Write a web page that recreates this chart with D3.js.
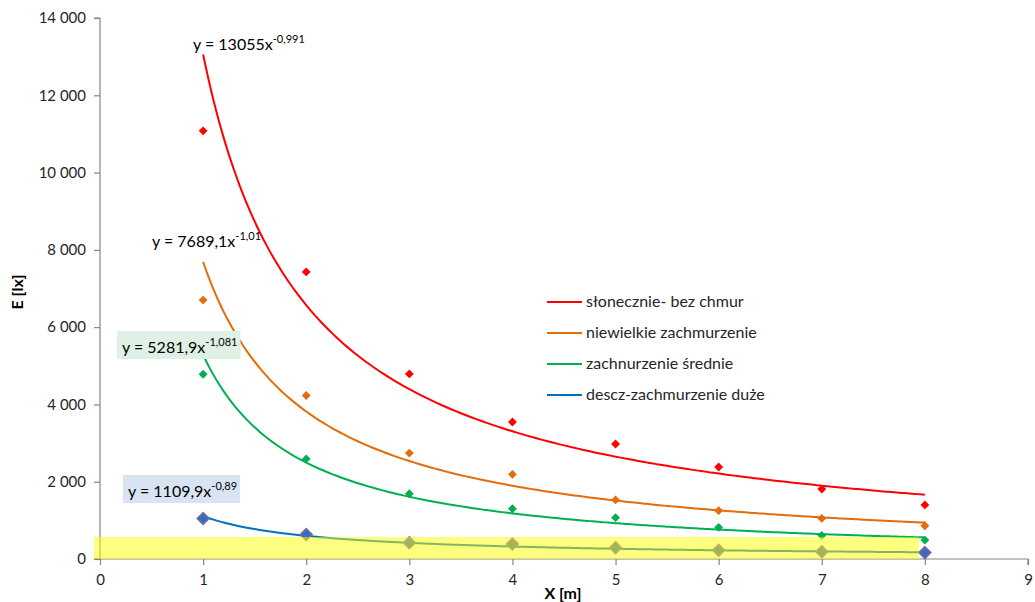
<!DOCTYPE html>
<html>
<head>
<meta charset="utf-8">
<script src="https://cdn.jsdelivr.net/npm/d3@7"></script>
<style>
  body { margin: 0; background: #fff; }
  svg { display: block; font-family: Lato, "Open Sans", sans-serif; }
</style>
</head>
<body>
<svg id="chart" width="1035" height="602"></svg>
<script>
// pomiary
const xValues = [1, 2, 3, 4, 5, 6, 7, 8];
const sunny = [11080, 7430, 4790, 3545, 2975, 2380, 1810, 1400];
const lightClouds = [6700, 4230, 2740, 2190, 1530, 1250, 1050, 860];
const mediumClouds = [4780, 2590, 1690, 1300, 1070, 820, 610, 490];
const heavyClouds = [1050, 635, 420, 385, 290, 225, 190, 165];

const seriesNames = ['słonecznie- bez chmur', 'niewielkie zachmurzenie', 'zachnurzenie średnie', 'descz-zachmurzenie duże'];
const seriesColors = ['#ff0000', '#e46c0a', '#00b050', '#0070c0'];
// y = a * x^b
const fitA = [13055, 7689.1, 5281.9, 1109.9];
const fitB = [-0.991, -1.01, -1.081, -0.89];
const fitLabelA = ['13055', '7689,1', '5281,9', '1109,9'];
const fitLabelB = ['-0,991', '-1,01', '-1,081', '-0,89'];

const xTicks = [0, 1, 2, 3, 4, 5, 6, 7, 8, 9];
const yTicks = [0, 2000, 4000, 6000, 8000, 10000, 12000, 14000];

const svg = d3.select('#chart');
const x = d3.scaleLinear().domain([0, 9]).range([100, 1028]);
const y = d3.scaleLinear().domain([0, 14000]).range([559, 18]);
const fmt = d3.formatLocale({ decimal: ',', thousands: '\u00a0', grouping: [3], currency: ['', ''] }).format(',d');

// osie
const yAxis = svg.append('g')
    .attr('transform', 'translate(100,0)')
    .call(d3.axisLeft(y).tickValues(yTicks).tickSize(6).tickPadding(8).tickFormat(fmt));
const xAxis = svg.append('g')
    .attr('transform', 'translate(0,559)')
    .call(d3.axisBottom(x).tickValues(xTicks).tickSize(6).tickPadding(9).tickFormat(d3.format('d')));
[xAxis, yAxis].forEach(a => {
    a.select('.domain').attr('stroke', '#868686').attr('stroke-width', 1.2);
    a.selectAll('.tick line').attr('stroke', '#868686').attr('stroke-width', 1.2);
    a.selectAll('.tick text').attr('fill', '#262626').style('font-size', '15px').style('font-family', 'Lato, sans-serif');
});
yAxis.select('.domain').attr('d', 'M-6,559H0V18H-6');
xAxis.select('.domain').attr('d', 'M94,0H1028V6');

svg.append('text')
    .attr('transform', 'translate(23,292) rotate(-90)')
    .attr('text-anchor', 'middle')
    .style('font-size', '16px').style('font-weight', 'bold')
    .attr('fill', '#000')
    .text('E [lx]');
svg.append('text')
    .attr('x', 563).attr('y', 599)
    .attr('text-anchor', 'middle')
    .style('font-size', '16px').style('font-weight', 'bold')
    .attr('fill', '#000')
    .text('X [m]');

// linie trendu
const allSeries = [sunny, lightClouds, mediumClouds, heavyClouds];
const line = d3.line().x(d => x(d[0])).y(d => y(d[1])).curve(d3.curveMonotoneX);
const fitX = d3.range(1, 8.001, 0.05);
fitA.forEach((a, i) => {
    svg.append('path')
        .attr('d', line(fitX.map(v => [v, a * Math.pow(v, fitB[i])])))
        .attr('fill', 'none')
        .attr('stroke', seriesColors[i])
        .attr('stroke-width', 2);
});

// punkty
const diamond = d3.symbol().type(d3.symbolDiamond2);
allSeries.forEach((vals, i) => {
    const big = i === 3;
    svg.append('g').selectAll('path')
        .data(vals)
        .join('path')
        .attr('transform', (d, j) => `translate(${x(xValues[j])},${y(d)})`)
        .attr('d', diamond.size(big ? 90 : 50)())
        .attr('fill', big ? '#2e6fc0' : seriesColors[i])
        .attr('stroke', big ? '#8064a2' : 'none')
        .attr('stroke-width', big ? 1.5 : 0);
});

// żółte pole
svg.append('rect')
    .attr('x', 94).attr('y', y(570))
    .attr('width', 825).attr('height', 559 - y(570))
    .attr('fill', 'rgba(255,255,0,0.5)');

// równania
const labels = [
    { x: 193, y: 50, box: null },
    { x: 152, y: 247, box: null },
    { x: 122, y: 353, box: '#dff1e5' },
    { x: 128, y: 497, box: '#d9e4f2' }
];
labels.forEach((l, i) => {
    const g = svg.append('g');
    const t = g.append('text')
        .attr('x', l.x).attr('y', l.y)
        .attr('fill', '#000')
        .style('font-size', '16px');
    t.append('tspan').text(`y = ${fitLabelA[i]}x`);
    t.append('tspan').attr('dy', -7).style('font-size', '11px').text(fitLabelB[i]);
    if (l.box) {
        const bb = t.node().getBBox();
        g.insert('rect', 'text')
            .attr('x', bb.x - 5).attr('y', l.y - 22)
            .attr('width', bb.width + 8).attr('height', 28)
            .attr('fill', l.box);
    }
});

// legenda
const legend = svg.append('g');
seriesNames.forEach((name, i) => {
    const ly = 302 + i * 31;
    legend.append('line')
        .attr('x1', 547).attr('x2', 582)
        .attr('y1', ly).attr('y2', ly)
        .attr('stroke', seriesColors[i]).attr('stroke-width', 2);
    legend.append('text')
        .attr('x', 586).attr('y', ly + 5)
        .attr('fill', '#262626')
        .style('font-size', '16px')
        .text(name);
});
</script>
</body>
</html>
